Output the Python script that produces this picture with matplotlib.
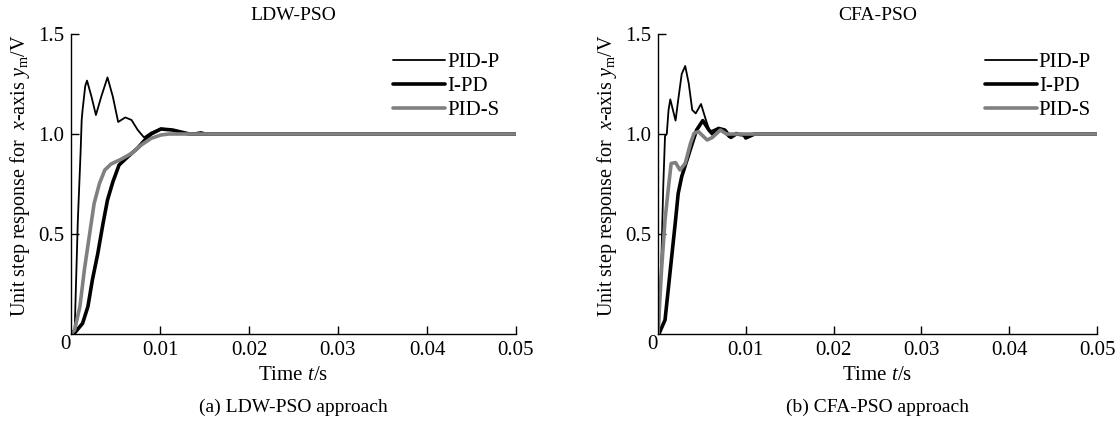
import matplotlib
matplotlib.use("Agg")
import matplotlib.pyplot as plt

plt.rcParams['font.family'] = ['Liberation Serif', 'DejaVu Serif']
plt.rcParams['mathtext.fontset'] = 'custom'
plt.rcParams['mathtext.rm'] = 'Liberation Serif'
plt.rcParams['mathtext.it'] = 'Liberation Serif:italic'

# ---- data ----
# (a) LDW-PSO
a_pidp_t = [0, 0.0004, 0.00077, 0.00107, 0.0012, 0.0013, 0.0016, 0.0018, 0.0023, 0.0028, 0.0034, 0.0041,
            0.0047, 0.0053, 0.0061, 0.0068, 0.0075, 0.0082, 0.0090, 0.0101, 0.0114, 0.0133, 0.0146, 0.0155, 0.05]
a_pidp_y = [0, 0.0, 0.57, 0.90, 1.07, 1.12, 1.24, 1.267, 1.187, 1.095, 1.187, 1.283,
            1.187, 1.06, 1.083, 1.07, 1.02, 0.983, 1.007, 1.028, 1.02, 1.0, 1.01, 1.0, 1.0]
a_ipd_t = [0, 0.0004, 0.0013, 0.0019, 0.0024, 0.0030, 0.0036, 0.0041, 0.0047, 0.0054, 0.0064, 0.0075,
           0.0083, 0.0090, 0.0101, 0.0114, 0.0133, 0.05]
a_ipd_y = [0, 0.005, 0.053, 0.137, 0.27, 0.40, 0.553, 0.67, 0.76, 0.845, 0.887, 0.93,
           0.97, 1.0, 1.025, 1.02, 1.0, 1.0]
a_pids_t = [0, 0.0004, 0.0010, 0.0015, 0.0021, 0.0026, 0.0032, 0.0038, 0.0045, 0.0056, 0.0068, 0.0079,
            0.0090, 0.0101, 0.0110, 0.05]
a_pids_y = [0, 0.02, 0.137, 0.32, 0.503, 0.653, 0.753, 0.82, 0.85, 0.873, 0.903, 0.945,
            0.978, 0.995, 1.0, 1.0]

# (b) CFA-PSO
b_pidp_t = [0, 0.0001, 0.0004, 0.0006, 0.0008, 0.0010, 0.0012, 0.0014, 0.0017, 0.0020, 0.0023, 0.0027,
            0.0031, 0.0035, 0.0039, 0.0043, 0.0049, 0.0054, 0.0059, 0.0067, 0.0073, 0.0081, 0.0089,
            0.0098, 0.0102, 0.05]
b_pidp_y = [0, 0.0, 0.40, 0.74, 0.99, 1.0, 1.12, 1.173, 1.12, 1.067, 1.17, 1.30,
            1.34, 1.253, 1.12, 1.103, 1.15, 1.078, 1.012, 1.028, 1.02, 0.983, 1.007,
            0.99, 1.0, 1.0]
b_ipd_t = [0, 0.0001, 0.0008, 0.0012, 0.0016, 0.0020, 0.0023, 0.0027, 0.0033, 0.0039, 0.0044, 0.0051,
           0.0058, 0.0062, 0.0069, 0.0076, 0.0083, 0.0089, 0.0098, 0.0100, 0.0110, 0.05]
b_ipd_y = [0, 0.0, 0.07, 0.237, 0.403, 0.57, 0.703, 0.787, 0.87, 0.953, 1.02, 1.067,
           1.02, 1.0, 1.028, 1.02, 0.983, 1.0, 0.995, 0.98, 1.0, 1.0]
b_pids_t = [0, 0.0004, 0.0008, 0.0012, 0.0015, 0.0020, 0.0025, 0.0031, 0.0037, 0.0041, 0.0046, 0.0056,
            0.0062, 0.0071, 0.0078, 0.05]
b_pids_y = [0, 0.32, 0.57, 0.737, 0.853, 0.857, 0.82, 0.853, 0.953, 1.003, 1.012, 0.97,
            0.983, 1.02, 1.0, 1.0]

xticks = [0.01, 0.02, 0.03, 0.04, 0.05]
xticklabels = ["0.01", "0.02", "0.03", "0.04", "0.05"]
yticks = [0.5, 1.0, 1.5]
yticklabels = ["0.5", "1.0", "1.5"]
titles = ["LDW-PSO", "CFA-PSO"]
captions = ["(a) LDW-PSO approach", "(b) CFA-PSO approach"]
labels = ["PID-P", "I-PD", "PID-S"]

W, H = 1116, 425
fig = plt.figure(figsize=(W / 100, H / 100), dpi=100)

panels = [
    ((a_pidp_t, a_pidp_y), (a_ipd_t, a_ipd_y), (a_pids_t, a_pids_y)),
    ((b_pidp_t, b_pidp_y), (b_ipd_t, b_ipd_y), (b_pids_t, b_pids_y)),
]
axpix = [(71, 516), (658, 1097)]
legx = [0.705, 0.725]
top_px, bot_px = 34, 334
fs = 15

for i, (series, (x0, x1)) in enumerate(zip(panels, axpix)):
    ax = fig.add_axes([x0 / W, (H - bot_px) / H, (x1 - x0) / W, (bot_px - top_px) / H])
    styles = [dict(color='black', lw=1.3), dict(color='black', lw=2.6), dict(color='#808080', lw=2.6)]
    for (t, y), st, lab in zip(series, styles, labels):
        ax.plot(t, y, label=lab, solid_joinstyle='round', solid_capstyle='round', **st)
    ax.set_xlim(0, 0.05)
    ax.set_ylim(0, 1.5)
    ax.spines['top'].set_visible(False)
    ax.spines['right'].set_visible(False)
    for s in ('left', 'bottom'):
        ax.spines[s].set_linewidth(1.0)
    ax.set_xticks(xticks)
    ax.set_xticklabels(xticklabels)
    ax.set_yticks(yticks)
    ax.set_yticklabels(yticklabels)
    ax.tick_params(direction='in', length=6, width=1.0, labelsize=fs, pad=5)
    ax.text(-0.012, -0.035, "0", transform=ax.transAxes, ha='center', va='center', fontsize=fs)
    ax.set_title(titles[i], fontsize=fs - 1, pad=10)
    ax.set_xlabel(r"Time $t$/s", fontsize=fs, labelpad=4)
    ax.set_ylabel(r"Unit step response for  $x$-axis $y_{\rm m}$/V", fontsize=fs - 0.5)
    ax.yaxis.set_label_coords(-0.088, 0.527)
    ax.legend(loc='upper left', bbox_to_anchor=(legx[i], 0.965), frameon=False, fontsize=fs,
              handlelength=2.5, handletextpad=0.1, labelspacing=0.2, borderaxespad=0)
    ax.text(0.5, -0.245, captions[i], transform=ax.transAxes, ha='center', va='center', fontsize=fs - 1)

fig.savefig("out.png", dpi=100)
